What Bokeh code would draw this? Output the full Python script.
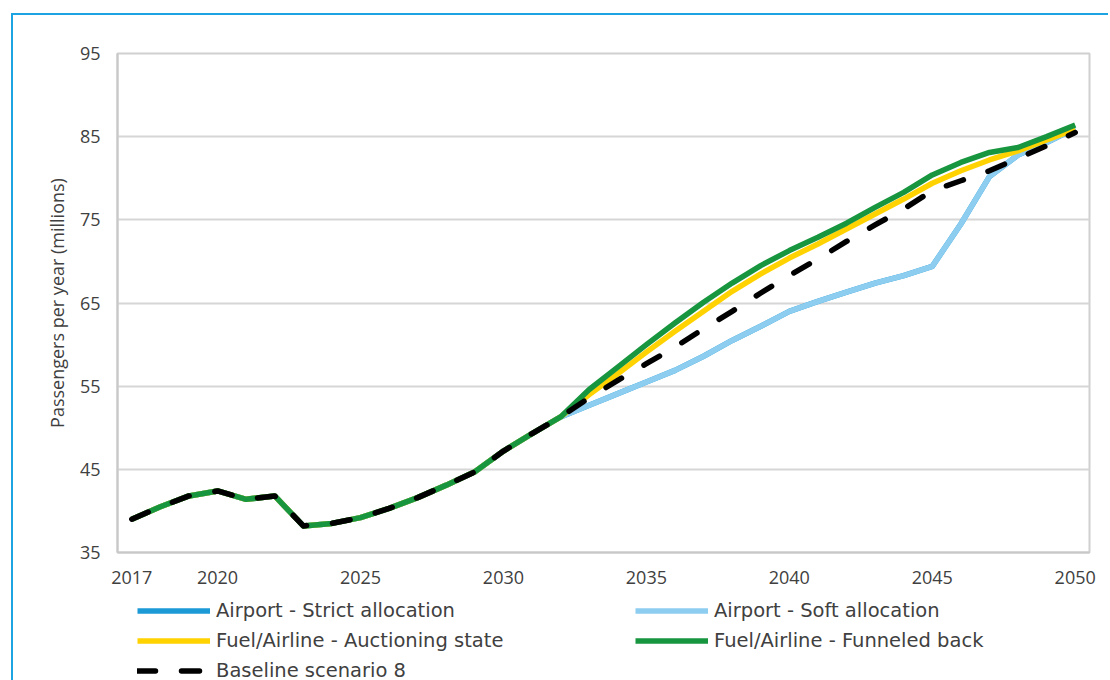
from bokeh.plotting import figure
from bokeh.layouts import column
from bokeh.models import Legend, LegendItem, FixedTicker, Range1d
from bokeh.embed import file_html
from bokeh.resources import INLINE

years = list(range(2017, 2051))

history = [39.0, 40.5, 41.8, 42.4, 41.4, 41.8, 38.2, 38.5, 39.2, 40.3,
           41.6, 43.1, 44.7, 47.2, 49.3, 51.3]

soft_future = [52.7, 54.1, 55.5, 56.9, 58.6, 60.5, 62.2, 64.0, 65.2, 66.3,
               67.4, 68.3, 69.4, 74.5, 80.2, 82.8, 84.3, 86.0]
strict_future = [52.7, 54.1, 55.5, 56.9, 58.6, 60.5, 62.2, 64.0, 65.2, 66.3,
                 67.4, 68.3, 69.4, 74.5, 80.2, 82.8, 84.3, 86.0]
auction_future = [54.0, 56.5, 59.1, 61.6, 64.0, 66.4, 68.5, 70.4, 72.1, 73.9,
                  75.7, 77.5, 79.4, 80.9, 82.2, 83.3, 84.6, 85.9]
funnel_future = [54.6, 57.3, 60.0, 62.6, 65.1, 67.4, 69.5, 71.3, 72.9, 74.6,
                 76.5, 78.3, 80.4, 81.9, 83.1, 83.7, 85.0, 86.4]
baseline_future = [53.6, 55.7, 57.7, 59.7, 61.9, 64.0, 66.2, 68.3, 70.3, 72.4,
                   74.4, 76.3, 78.5, 79.7, 80.9, 82.4, 83.9, 85.5]

strict = history + strict_future
soft = history + soft_future
auction = history + auction_future
funnel = history + funnel_future
baseline = history + baseline_future

x_ticks = [2017, 2020, 2025, 2030, 2035, 2040, 2045, 2050]
y_ticks = [35, 45, 55, 65, 75, 85, 95]

labels = ["Airport - Strict allocation", "Airport - Soft allocation",
          "Fuel/Airline - Auctioning state", "Fuel/Airline - Funneled back",
          "Baseline scenario 8"]
colors = ["#1B9AD6", "#8DCDF0", "#FFD200", "#17963F", "#000000"]

FONT = "Open Sans"
LFONT = "DejaVu Sans"
TXT = "#404040"
BLUE_FRAME = "#1CA3E2"

p = figure(width=1108, height=592,
           styles={"background-color": "#ffffff",
                   "box-shadow": f"inset 11px 13px 0 0 #ffffff, inset 13px 15px 0 0 {BLUE_FRAME}"},
           output_backend="svg", toolbar_location=None,
           x_range=Range1d(2016.5, 2050.5), y_range=Range1d(35, 95),
           min_border_left=117, min_border_top=53, min_border_right=19,
           min_border_bottom=40)

p.background_fill_color = "white"
p.border_fill_alpha = 0
p.outline_line_color = "#D0D0D0"
p.outline_line_width = 2

p.xgrid.visible = False
p.ygrid.grid_line_color = "#D6D6D6"
p.ygrid.grid_line_width = 2

p.xaxis.ticker = FixedTicker(ticks=x_ticks)
p.yaxis.ticker = FixedTicker(ticks=y_ticks)
for ax in (p.xaxis, p.yaxis):
    ax.axis_line_color = "#C8C8C8"
    ax.axis_line_width = 2
    ax.major_tick_line_color = None
    ax.minor_tick_line_color = None
    ax.major_label_text_font = FONT
    ax.major_label_text_font_size = "18px"
    ax.major_label_text_color = TXT
p.xaxis.major_label_standoff = 12
p.yaxis.major_label_standoff = 11
p.yaxis.axis_label = "Passengers per year (millions)"
p.yaxis.axis_label_text_font = FONT
p.yaxis.axis_label_text_font_size = "18px"
p.yaxis.axis_label_text_font_style = "normal"
p.yaxis.axis_label_text_color = TXT
p.yaxis.axis_label_standoff = 8

line_styles = [dict(line_color=c, line_width=5.5, line_join="round") for c in colors]
line_styles[4].update(line_cap="round", line_dash="18 26")

series = [strict, soft, auction, funnel, baseline]
for vals, st in zip(series, line_styles):
    p.line(years, vals, **st)

# legend strip below the chart (its frame is aligned with the chart's frame)
lg = figure(width=1108, height=88,
            styles={"background-color": "#ffffff",
                    "box-shadow": f"inset 11px 0 0 0 #ffffff, inset 13px 0 0 0 {BLUE_FRAME}"},
            output_backend="svg", toolbar_location=None,
            x_range=Range1d(0, 1), y_range=Range1d(0, 1),
            x_axis_location=None, y_axis_location=None, min_border=0)
lg.background_fill_alpha = 0
lg.border_fill_alpha = 0
lg.outline_line_color = None
lg.grid.visible = False

# off-range proxies that only serve as legend swatches
legend_renderers = [lg.line(x=[-5, -4], y=[-5, -5], **st) for st in line_styles]

legend = Legend(items=[LegendItem(label=labels[i], renderers=[legend_renderers[i]]) for i in range(5)],
                location=(20, -1.5), orientation="horizontal", ncols=2,
                glyph_width=73, glyph_height=23, label_height=23, spacing=7,
                label_standoff=6, label_width=412, padding=0, margin=0,
                border_line_alpha=0, background_fill_alpha=0,
                label_text_font=LFONT, label_text_font_size="19.5px",
                label_text_color=TXT)
lg.add_layout(legend)

layout = column(p, lg, spacing=0)
open("out.html", "w").write(file_html(layout, INLINE))
